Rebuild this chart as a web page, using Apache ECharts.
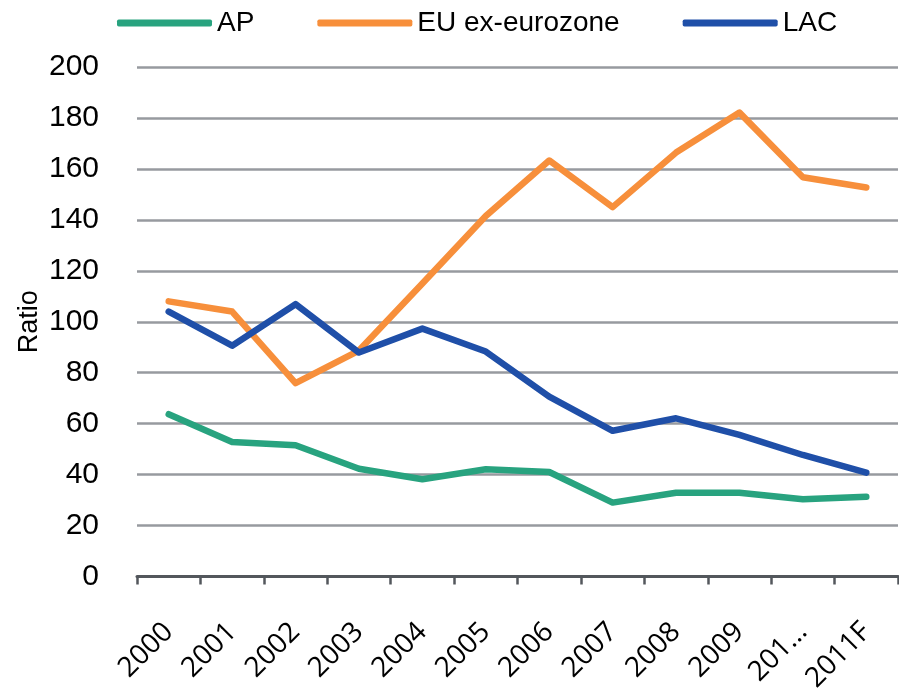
<!DOCTYPE html>
<html>
<head>
<meta charset="utf-8">
<script src="https://cdn.jsdelivr.net/npm/echarts@6/dist/echarts.min.js"></script>
<style>html,body{margin:0;padding:0;background:#fff}#c{width:899px;height:689px}</style>
</head>
<body>
<div id="c"></div>
<script>
const categories = ['2000','2001','2002','2003','2004','2005','2006','2007','2008','2009','2010','2011F'];
const tickLabels = ['2000','2001','2002','2003','2004','2005','2006','2007','2008','2009','201…','2011F'];
const seriesNames = ['AP','EU ex-eurozone','LAC'];
const apValues  = [63.7, 52.8, 51.5, 42.3, 38.2, 42.1, 41.0, 29.0, 32.9, 32.9, 30.3, 31.3];
const euValues  = [108, 104, 75.9, 88.7, 115, 141.5, 163.3, 145, 166.4, 182.1, 156.7, 152.7];
const lacValues = [104, 90.6, 106.9, 87.9, 97.3, 88.3, 70.6, 57.2, 62.1, 55.6, 47.7, 40.8];
const yTicks = [0, 20, 40, 60, 80, 100, 120, 140, 160, 180, 200];

const colors = ['#28a37f', '#f78f3b', '#1f4fa8'];
const narrow = "'Liberation Sans Narrow','Arial Narrow','Liberation Sans',sans-serif";

const chart = echarts.init(document.getElementById('c'), null, {renderer: 'canvas'});
const mk = (name, data, color) => ({
  name, type: 'line', data, symbol: 'none', smooth: false,
  lineStyle: {color, width: 6.5, cap: 'round', join: 'round'},
  itemStyle: {color}
});
chart.setOption({
  animation: false,
  color: colors,
  legend: {
    top: 4, left: 112, itemWidth: 95, itemHeight: 7, itemGap: 63,
    icon: 'roundRect',
    textStyle: {fontFamily: narrow, fontSize: 28, color: '#000'},
    data: seriesNames
  },
  grid: {left: 137, right: 1, top: 67, bottom: 112.5, containLabel: false, outerBoundsMode: 'none'},
  xAxis: {
    type: 'category', data: categories, boundaryGap: true,
    axisLine: {lineStyle: {color: '#53575c', width: 3}},
    axisTick: {show: true, length: 8, lineStyle: {color: '#53575c', width: 2.5}},
    axisLabel: {
      rotate: 45, interval: 0, margin: 51,
      fontFamily: "'Open Sans',sans-serif", fontSize: 28, color: '#000',
      formatter: (v, i) => tickLabels[i]
    }
  },
  yAxis: {
    type: 'value', min: yTicks[0], max: yTicks[yTicks.length-1], interval: 20,
    name: 'Ratio', nameLocation: 'middle', nameRotate: 90, nameGap: 94, nameMoveOverlap: false,
    nameTextStyle: {fontFamily: narrow, fontSize: 27, color: '#000'},
    axisLine: {show: false}, axisTick: {show: false},
    axisLabel: {margin: 38, fontFamily: "'Liberation Sans',Arial,sans-serif", fontSize: 30, color: '#000'},
    splitLine: {lineStyle: {color: '#979a9f', width: 2.5}}
  },
  series: [mk(seriesNames[0], apValues, colors[0]), mk(seriesNames[1], euValues, colors[1]), mk(seriesNames[2], lacValues, colors[2])]
});
</script>
</body>
</html>
